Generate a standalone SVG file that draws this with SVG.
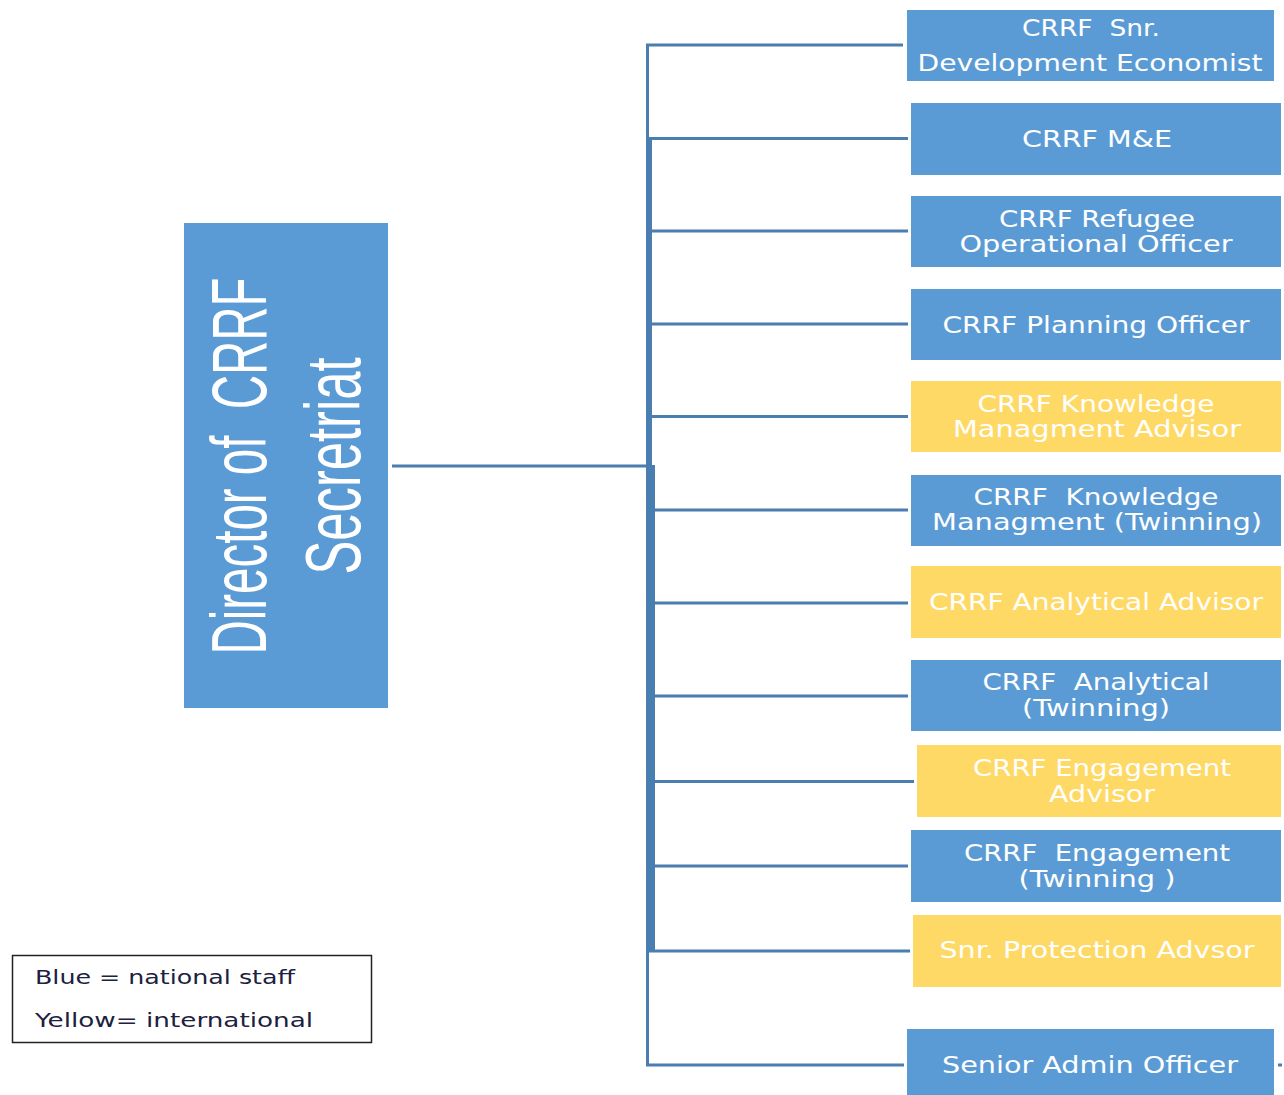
<svg xmlns="http://www.w3.org/2000/svg" width="1284" height="1095" viewBox="0 0 1284 1095">
<style>
.blue{fill:#5B9BD5;}
.yel{fill:#FFD966;}
.t{font-family:"DejaVu Sans","Liberation Sans",sans-serif;font-size:23px;fill:#FFFFFF;text-anchor:middle;white-space:pre;}
.dir{font-family:"Liberation Sans",Arial,sans-serif;font-size:78px;fill:#FFFFFF;text-anchor:middle;white-space:pre;}
.lg{font-family:"DejaVu Sans","Liberation Sans",sans-serif;font-size:20px;fill:#1C2140;}
.c{stroke:#4A7DB0;stroke-width:3;fill:none;}
</style>
<rect width="1284" height="1095" fill="#FFFFFF"/>
<g id="connectors">
<rect x="646" y="44" width="3" height="1022" fill="#4A7DB0"/>
<rect x="646" y="137" width="6" height="330" fill="#4A7DB0"/>
<rect x="646" y="465" width="9" height="487" fill="#4A7DB0"/>
<line class="c" x1="392" y1="466" x2="650" y2="466" stroke-width="2.5"/>
<line class="c" x1="646" y1="45" x2="903" y2="45"/>
<line class="c" x1="650" y1="138.5" x2="908" y2="138.5"/>
<line class="c" x1="650" y1="231" x2="908" y2="231"/>
<line class="c" x1="650" y1="324" x2="908" y2="324"/>
<line class="c" x1="650" y1="416.5" x2="908" y2="416.5"/>
<line class="c" x1="653" y1="510" x2="908" y2="510"/>
<line class="c" x1="653" y1="603" x2="908" y2="603"/>
<line class="c" x1="653" y1="696" x2="908" y2="696"/>
<line class="c" x1="653" y1="781.5" x2="914" y2="781.5" stroke-width="4"/>
<line class="c" x1="650" y1="866" x2="908" y2="866"/>
<line class="c" x1="648" y1="951" x2="910" y2="951"/>
<line class="c" x1="646" y1="1065" x2="904" y2="1065"/>
<line class="c" x1="1278" y1="1065" x2="1282" y2="1065" stroke-width="2"/>
</g>
<g id="director">
<rect class="blue" x="184" y="223" width="204" height="485"/>
<text class="dir" transform="translate(266,466) rotate(-90)" textLength="377" lengthAdjust="spacingAndGlyphs">Director of  CRRF</text>
<text class="dir" transform="translate(360,466) rotate(-90)" textLength="217" lengthAdjust="spacingAndGlyphs">Secretriat</text>
</g>
<g id="n1"><rect class="blue" x="907" y="10" width="367" height="71"/>
<text class="t" x="1091" y="36" textLength="138" lengthAdjust="spacingAndGlyphs">CRRF  Snr.</text>
<text class="t" x="1090" y="71" textLength="345" lengthAdjust="spacingAndGlyphs">Development Economist</text></g>
<g id="n2"><rect class="blue" x="911" y="103" width="370" height="72"/>
<text class="t" x="1097" y="147" textLength="150" lengthAdjust="spacingAndGlyphs">CRRF M&amp;E</text></g>
<g id="n3"><rect class="blue" x="911" y="196" width="370" height="71"/>
<text class="t" x="1097" y="227" textLength="196" lengthAdjust="spacingAndGlyphs">CRRF Refugee</text>
<text class="t" x="1096" y="252" textLength="273" lengthAdjust="spacingAndGlyphs">Operational Officer</text></g>
<g id="n4"><rect class="blue" x="911" y="289" width="370" height="71"/>
<text class="t" x="1096" y="333" textLength="307" lengthAdjust="spacingAndGlyphs">CRRF Planning Officer</text></g>
<g id="n5"><rect class="yel" x="911" y="381" width="370" height="71"/>
<text class="t" x="1096" y="412" textLength="237" lengthAdjust="spacingAndGlyphs">CRRF Knowledge</text>
<text class="t" x="1097" y="437" textLength="288" lengthAdjust="spacingAndGlyphs">Managment Advisor</text></g>
<g id="n6"><rect class="blue" x="911" y="475" width="370" height="71"/>
<text class="t" x="1096" y="505" textLength="245" lengthAdjust="spacingAndGlyphs">CRRF  Knowledge</text>
<text class="t" x="1097" y="530" textLength="330" lengthAdjust="spacingAndGlyphs">Managment (Twinning)</text></g>
<g id="n7"><rect class="yel" x="911" y="566" width="370" height="72"/>
<text class="t" x="1096" y="610" textLength="334" lengthAdjust="spacingAndGlyphs">CRRF Analytical Advisor</text></g>
<g id="n8"><rect class="blue" x="911" y="660" width="370" height="71"/>
<text class="t" x="1096" y="690" textLength="227" lengthAdjust="spacingAndGlyphs">CRRF  Analytical</text>
<text class="t" x="1096" y="716" textLength="148" lengthAdjust="spacingAndGlyphs">(Twinning)</text></g>
<g id="n9"><rect class="yel" x="917" y="745" width="364" height="72"/>
<text class="t" x="1102" y="776" textLength="258" lengthAdjust="spacingAndGlyphs">CRRF Engagement</text>
<text class="t" x="1102" y="802" textLength="106" lengthAdjust="spacingAndGlyphs">Advisor</text></g>
<g id="n10"><rect class="blue" x="911" y="830" width="370" height="72"/>
<text class="t" x="1097" y="861" textLength="266" lengthAdjust="spacingAndGlyphs">CRRF  Engagement</text>
<text class="t" x="1097" y="887" textLength="157" lengthAdjust="spacingAndGlyphs">(Twinning )</text></g>
<g id="n11"><rect class="yel" x="913" y="915" width="368" height="72"/>
<text class="t" x="1097" y="958" textLength="315" lengthAdjust="spacingAndGlyphs">Snr. Protection Advsor</text></g>
<g id="n12"><rect class="blue" x="907" y="1029" width="367" height="66"/>
<text class="t" x="1090" y="1073" textLength="296" lengthAdjust="spacingAndGlyphs">Senior Admin Officer</text></g>
<g id="legend">
<rect x="12.5" y="955.5" width="359" height="87" fill="#FFFFFF" stroke="#222222" stroke-width="1.5"/>
<text class="lg" x="35" y="984" textLength="260" lengthAdjust="spacingAndGlyphs">Blue = national staff</text>
<text class="lg" x="35" y="1027" textLength="278" lengthAdjust="spacingAndGlyphs">Yellow= international</text>
</g>
</svg>
